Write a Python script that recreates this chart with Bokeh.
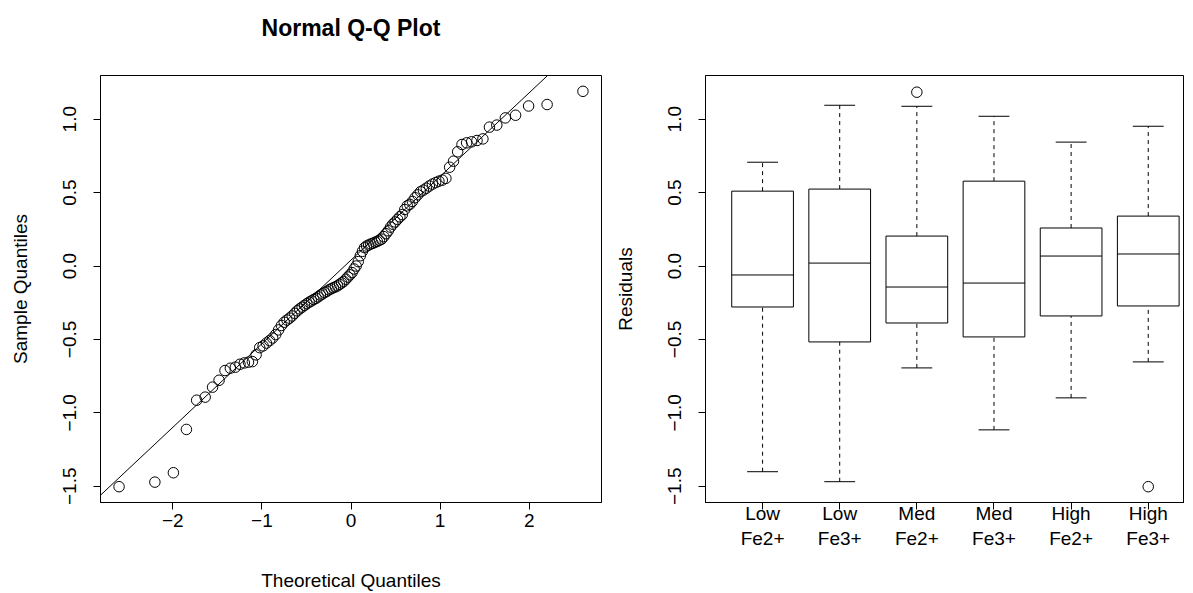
from statistics import NormalDist
import numpy as np
from bokeh.plotting import figure
from bokeh.layouts import row
from bokeh.models import (FixedTicker, CustomJSTickFormatter, Slope, ColumnDataSource,
                          Range1d)
from bokeh.embed import file_html
from bokeh.resources import INLINE

# ---------------- data ----------------
# sorted residuals (sample quantiles)
sample_residuals = [
    -1.503, -1.472, -1.408, -1.113, -0.914, -0.893, -0.825, -0.778, -0.712, -0.696,
    -0.689, -0.669, -0.660, -0.655, -0.651, -0.605, -0.556, -0.544, -0.525, -0.508,
    -0.490, -0.467, -0.435, -0.405, -0.383, -0.368, -0.355, -0.340, -0.322, -0.305,
    -0.292, -0.280, -0.268, -0.257, -0.246, -0.238, -0.228, -0.220, -0.210, -0.198,
    -0.190, -0.180, -0.172, -0.162, -0.155, -0.148, -0.142, -0.135, -0.125, -0.115,
    -0.105, -0.090, -0.075, -0.060, -0.045, -0.020, 0.000, 0.030, 0.070, 0.100,
    0.125, 0.136, 0.143, 0.150, 0.155, 0.162, 0.168, 0.175, 0.183, 0.200,
    0.220, 0.240, 0.265, 0.285, 0.300, 0.318, 0.335, 0.350, 0.385, 0.410,
    0.420, 0.440, 0.465, 0.485, 0.506, 0.517, 0.530, 0.545, 0.558, 0.568,
    0.578, 0.585, 0.597, 0.673, 0.714, 0.778, 0.828, 0.839, 0.846, 0.855,
    0.866, 0.946, 0.960, 1.009, 1.027, 1.090, 1.100, 1.190,
]

# boxplot statistics per group
groups = ["Low\nFe2+", "Low\nFe3+", "Med\nFe2+", "Med\nFe3+", "High\nFe2+", "High\nFe3+"]
whisker_low = [-1.401, -1.469, -0.694, -1.116, -0.898, -0.653]
q1 = [-0.279, -0.517, -0.388, -0.483, -0.340, -0.272]
median = [-0.061, 0.020, -0.143, -0.116, 0.068, 0.082]
q3 = [0.510, 0.524, 0.204, 0.578, 0.259, 0.340]
whisker_high = [0.707, 1.095, 1.088, 1.020, 0.844, 0.952]
outlier_group = [3, 6]
outlier_value = [1.184, -1.503]

y_ticks = [-1.5, -1.0, -0.5, 0.0, 0.5, 1.0]
qq_x_ticks = [-2, -1, 0, 1, 2]
title_text = "Normal Q-Q Plot"

FONT = "Liberation Sans"
FS = "19px"

# ---------------- derived (as qqnorm / qqline do) ----------------
n = len(sample_residuals)
nd = NormalDist()
theoretical = [nd.inv_cdf((i - 0.5) / n) for i in range(1, n + 1)]
yq = np.quantile(sample_residuals, [0.25, 0.75])
xq = [nd.inv_cdf(0.25), nd.inv_cdf(0.75)]
slope = (yq[1] - yq[0]) / (xq[1] - xq[0])
intercept = yq[0] - slope * xq[0]

def ext(lo, hi):
    r = hi - lo
    return lo - 0.04 * r, hi + 0.04 * r

ylo, yhi = ext(min(sample_residuals), max(sample_residuals))
xlo, xhi = ext(min(theoretical), max(theoretical))

yfmt = CustomJSTickFormatter(code="return tick.toFixed(1).replace('-', '\u2212');")
xfmt = CustomJSTickFormatter(code="return tick.toFixed(0).replace('-', '\u2212');")


def style(p):
    p.background_fill_color = "white"
    p.border_fill_color = "white"
    p.outline_line_color = "black"
    p.outline_line_width = 1
    p.outline_line_alpha = 1
    p.grid.visible = False
    for ax in (p.xaxis[0], p.yaxis[0]):
        ax.axis_line_color = "black"
        ax.major_tick_line_color = "black"
        ax.major_tick_in = 0
        ax.major_tick_out = 7
        ax.minor_tick_line_color = None
        ax.major_label_text_font = FONT
        ax.major_label_text_font_size = FS
        ax.major_label_text_color = "black"
        ax.axis_label_text_font = FONT
        ax.axis_label_text_font_size = FS
        ax.axis_label_text_font_style = "normal"
        ax.axis_label_text_color = "black"
    p.yaxis[0].ticker = FixedTicker(ticks=y_ticks)
    p.yaxis[0].formatter = yfmt
    p.yaxis[0].major_label_orientation = "vertical"
    p.yaxis[0].major_label_standoff = 17
    p.yaxis[0].axis_label_standoff = 30


# ---------------- left: Normal Q-Q plot ----------------
p1 = figure(frame_width=501, frame_height=427,
            min_border_left=100, min_border_right=10, min_border_top=75, min_border_bottom=91,
            x_range=Range1d(xlo, xhi), y_range=Range1d(ylo, yhi),
            output_backend="svg", toolbar_location=None, title=title_text + "\n",
            x_axis_label="Theoretical Quantiles", y_axis_label="Sample Quantiles")
style(p1)
p1.title.text_font = FONT
p1.title.text_font_size = "23px"
p1.title.text_font_style = "bold"
p1.title.text_color = "black"
p1.title.align = "center"
p1.title.standoff = 18
p1.xaxis[0].ticker = FixedTicker(ticks=qq_x_ticks)
p1.xaxis[0].formatter = xfmt
p1.xaxis[0].major_label_standoff = 4
p1.xaxis[0].axis_label_standoff = 40

qsrc = ColumnDataSource(dict(x=theoretical, y=sample_residuals))
p1.scatter("x", "y", source=qsrc, marker="circle", size=10.5, fill_color=None,
           line_color="black", line_width=1)
p1.add_layout(Slope(gradient=slope, y_intercept=intercept, line_color="black", line_width=1))

# ---------------- right: residual boxplot ----------------
pos = list(range(1, len(groups) + 1))
p2 = figure(frame_width=479, frame_height=427,
            min_border_left=92, min_border_right=0, min_border_top=75, min_border_bottom=91,
            x_range=Range1d(0.26, 6.47), y_range=Range1d(ylo, yhi),
            output_backend="svg", toolbar_location=None,
            y_axis_label="Residuals")
style(p2)
p2.xaxis[0].ticker = FixedTicker(ticks=pos)
p2.xaxis[0].major_label_overrides = {i: g for i, g in zip(pos, groups)}
p2.xaxis[0].major_label_standoff = -7

bw = 0.4
cw = 0.2
bsrc = ColumnDataSource(dict(
    x=pos, left=[x - bw for x in pos], right=[x + bw for x in pos],
    cl=[x - cw for x in pos], cr=[x + cw for x in pos],
    lo=whisker_low, q1=q1, med=median, q3=q3, hi=whisker_high))
p2.segment("x", "q3", "x", "hi", source=bsrc, line_color="black", line_width=1, line_dash="4 4")
p2.segment("x", "lo", "x", "q1", source=bsrc, line_color="black", line_width=1, line_dash="4 4")
p2.segment("cl", "hi", "cr", "hi", source=bsrc, line_color="black", line_width=1)
p2.segment("cl", "lo", "cr", "lo", source=bsrc, line_color="black", line_width=1)
p2.quad(left="left", right="right", bottom="q1", top="q3", source=bsrc,
        fill_color="white", line_color="black", line_width=1)
p2.segment("left", "med", "right", "med", source=bsrc, line_color="black", line_width=1)
osrc = ColumnDataSource(dict(x=outlier_group, y=outlier_value))
p2.scatter("x", "y", source=osrc, marker="circle", size=10.5, fill_color=None,
           line_color="black", line_width=1)

layout = row(p1, p2)
open("out.html", "w").write(file_html(layout, INLINE))
